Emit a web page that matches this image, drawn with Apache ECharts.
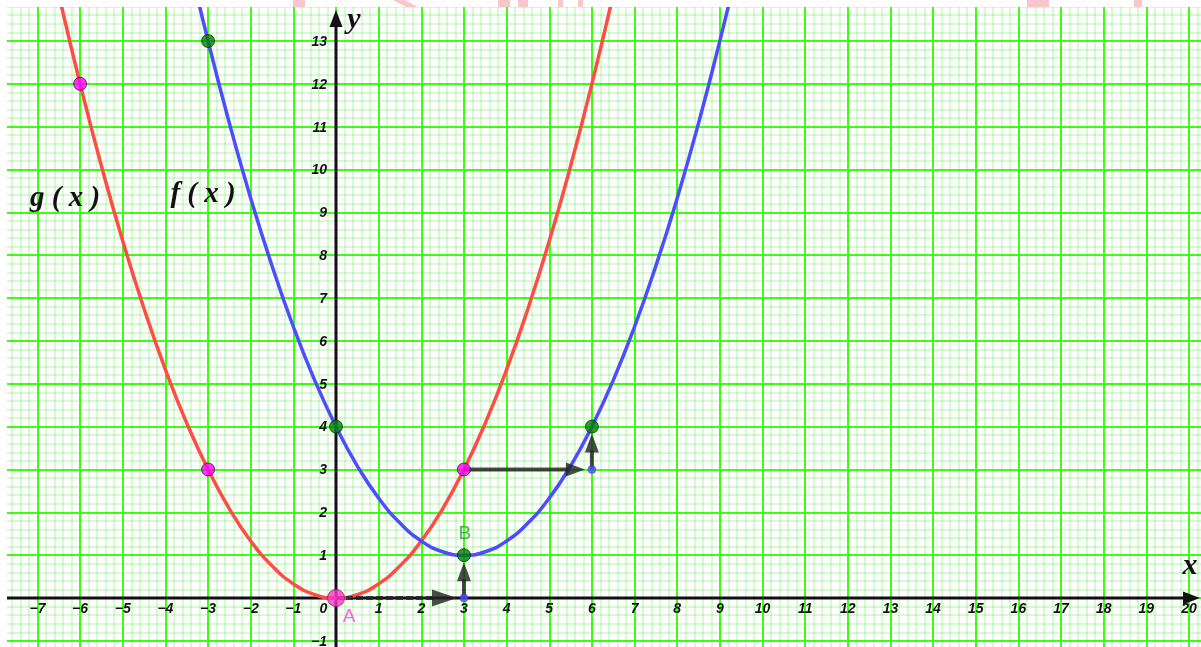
<!DOCTYPE html>
<html><head><meta charset="utf-8">
<script src="https://cdn.jsdelivr.net/npm/echarts@6/dist/echarts.min.js"></script>
<style>html,body{margin:0;padding:0;background:#fff}#c{width:1201px;height:647px}</style>
</head><body><div id="c"></div>
<script>
// ---- data ----
const gX = [-7,-6.5,-6,-5.5,-5,-4.5,-4,-3.5,-3,-2.5,-2,-1.5,-1,-0.5,0,0.5,1,1.5,2,2.5,3,3.5,4,4.5,5,5.5,6,6.5,7];
const gY = [16.33,14.08,12,10.08,8.33,6.75,5.33,4.08,3,2.08,1.33,0.75,0.33,0.08,0,0.08,0.33,0.75,1.33,2.08,3,4.08,5.33,6.75,8.33,10.08,12,14.08,16.33];
const fX = [-4,-3.5,-3,-2.5,-2,-1.5,-1,-0.5,0,0.5,1,1.5,2,2.5,3,3.5,4,4.5,5,5.5,6,6.5,7,7.5,8,8.5,9,9.5,10];
const fY = [17.33,15.08,13,11.08,9.33,7.75,6.33,5.08,4,3.08,2.33,1.75,1.33,1.08,1,1.08,1.33,1.75,2.33,3.08,4,5.08,6.33,7.75,9.33,11.08,13,15.08,17.33];
const gMarked = [[-6,12],[-3,3],[3,3]];
const pointA = [[0,0]];
const fMarked = [[-3,13],[0,4],[6,4]];
const pointB = [[3,1]];
const helperPts = [[3,0],[6,3]];
// vectors: x1, y1, x2, y2, dashed
const vectors = [[0,0,3,0,1],[3,0,3,1,0],[3,3,6,3,0],[6,3,6,4,0]];
// tick labels shown on the axes
const xTicks = [-7,-6,-5,-4,-3,-2,-1,0,1,2,3,4,5,6,7,8,9,10,11,12,13,14,15,16,17,18,19,20];
const yTicks = [-1,1,2,3,4,5,6,7,8,9,10,11,12,13];

const zip = (xs, ys) => xs.map((x, i) => [x, ys[i]]);
const minus = v => String(v).replace('-', '\u2212');

const chart = echarts.init(document.getElementById('c'), null, {renderer: 'canvas'});
const TICK_FONT = 'italic bold 14px "Liberation Sans"';
const INK = 'rgba(35,35,35,0.82)';
const PINK = '#f8c6cb';

const option = {
  animation: false,
  backgroundColor: '#fff',
  grid: {left: -5.2, right: -30.65, top: -1.9, bottom: -36.7, containLabel: false, outerBoundsMode: 'none'},
  xAxis: {
    type: 'value', min: -8, max: 21, interval: 1,
    axisLine: {show: false}, axisTick: {show: false}, axisLabel: {show: false},
    splitLine: {show: true, lineStyle: {color: '#3cff14', width: 2}},
    minorTick: {show: false, splitNumber: 5},
    minorSplitLine: {show: true, lineStyle: {color: 'rgba(60,230,40,0.25)', width: 1.6}}
  },
  yAxis: {
    type: 'value', min: -2, max: 14, interval: 1,
    axisLine: {show: false}, axisTick: {show: false}, axisLabel: {show: false},
    splitLine: {show: true, lineStyle: {color: '#3cff14', width: 2}},
    minorTick: {show: false, splitNumber: 5},
    minorSplitLine: {show: true, lineStyle: {color: 'rgba(60,230,40,0.25)', width: 1.6}}
  },
  series: [
    {
      type: 'custom', name: 'axes', coordinateSystem: 'cartesian2d', z: 3,
      data: [[0, 0]],
      renderItem: (params, api) => {
        const o = api.coord([0, 0]);
        const H = 647;
        const ax = 1200, ay = 10;
        const children = [
          {type: 'line', shape: {x1: 7, y1: o[1], x2: ax - 14, y2: o[1]}, style: {stroke: '#111', lineWidth: 3}},
          {type: 'polygon', shape: {points: [[ax, o[1]], [ax - 17, o[1] - 6.5], [ax - 17, o[1] + 6.5]]}, style: {fill: '#111'}},
          {type: 'line', shape: {x1: o[0], y1: H, x2: o[0], y2: ay + 14}, style: {stroke: '#111', lineWidth: 3}},
          {type: 'polygon', shape: {points: [[o[0], ay], [o[0] - 6.5, ay + 17], [o[0] + 6.5, ay + 17]]}, style: {fill: '#111'}}
        ];
        xTicks.forEach(v => {
          const p = api.coord([v, 0]);
          children.push({type: 'text', z2: 10, style: {
            text: minus(v), x: v === 0 ? p[0] - 12.5 : p[0], y: p[1] + 11.5,
            font: TICK_FONT, fill: '#111', align: 'center', verticalAlign: 'middle'}});
        });
        yTicks.forEach(v => {
          const p = api.coord([0, v]);
          children.push({type: 'text', z2: 10, style: {
            text: minus(v), x: p[0] - 9, y: p[1] + 1,
            font: TICK_FONT, fill: '#111', align: 'right', verticalAlign: 'middle'}});
        });
        return {type: 'group', children};
      }
    },
    {
      type: 'line', name: 'g', data: zip(gX, gY), smooth: true,
      showSymbol: false, lineStyle: {color: '#ff4d45', width: 3.5}, z: 4
    },
    {
      type: 'line', name: 'f', data: zip(fX, fY), smooth: true,
      showSymbol: false, lineStyle: {color: '#4d4dff', width: 3.5}, z: 4
    },
    {
      type: 'custom', name: 'vectors', coordinateSystem: 'cartesian2d', z: 5,
      encode: {x: [0, 2], y: [1, 3]},
      data: vectors,
      renderItem: (params, api) => {
        const p1 = api.coord([api.value(0), api.value(1)]);
        const p2 = api.coord([api.value(2), api.value(3)]);
        const dashed = api.value(4) === 1;
        const dx = p2[0] - p1[0], dy = p2[1] - p1[1];
        const len = Math.hypot(dx, dy);
        const ux = dx / len, uy = dy / len, nx = -uy, ny = ux;
        const tip = [p2[0] - ux * 7, p2[1] - uy * 7];
        const hl = dashed ? 25 : 19, hw = dashed ? 8.5 : 7;
        const base = [tip[0] - ux * hl, tip[1] - uy * hl];
        return {type: 'group', children: [
          {type: 'line', shape: {x1: p1[0], y1: p1[1], x2: base[0] + ux * 2, y2: base[1] + uy * 2},
           style: {stroke: INK, lineWidth: 4, lineDash: dashed ? [7, 3] : null}},
          {type: 'polygon', shape: {points: [tip, [base[0] + nx * hw, base[1] + ny * hw], [base[0] - nx * hw, base[1] - ny * hw]]},
           style: {fill: INK}}
        ]};
      }
    },
    {
      type: 'scatter', name: 'helper', data: helperPts, symbolSize: 8, z: 6,
      itemStyle: {color: '#4b4bff', borderColor: '#3030c0', borderWidth: 0.5}
    },
    {
      type: 'scatter', name: 'gPoints', data: gMarked, symbolSize: 13, z: 7,
      itemStyle: {color: '#ff00ff', borderColor: '#3a103a', borderWidth: 1}
    },
    {
      type: 'scatter', name: 'A', data: pointA, symbolSize: 17, z: 7,
      itemStyle: {color: '#ff33cc', borderColor: '#802060', borderWidth: 1},
      label: {show: true, formatter: 'A', position: 'bottom', distance: 0, offset: [13, 0],
              fontFamily: 'Liberation Sans', fontSize: 19, color: '#ff40d0'}
    },
    {
      type: 'scatter', name: 'fPoints', data: fMarked, symbolSize: 13, z: 7,
      itemStyle: {color: '#008000', borderColor: '#0a300a', borderWidth: 1}
    },
    {
      type: 'scatter', name: 'B', data: pointB, symbolSize: 13, z: 7,
      itemStyle: {color: '#008000', borderColor: '#0a300a', borderWidth: 1},
      label: {show: true, formatter: 'B', position: 'top', distance: 5, offset: [1, 0],
              fontFamily: 'Liberation Sans', fontSize: 19, color: '#22a022'}
    }
  ],
  graphic: [
    {type: 'rect', z: 100, shape: {x: 0, y: 0, width: 1201, height: 7}, style: {fill: '#fff'}},
    {type: 'rect', z: 100, shape: {x: 0, y: 0, width: 7, height: 647}, style: {fill: '#fff'}},
    {type: 'rect', z: 101, shape: {x: 293, y: 0, width: 12, height: 7}, style: {fill: PINK}},
    {type: 'polygon', z: 101, shape: {points: [[393, 0], [405, 0], [418, 7], [406, 7]]}, style: {fill: PINK}},
    {type: 'rect', z: 101, shape: {x: 498, y: 0, width: 12, height: 7}, style: {fill: PINK}},
    {type: 'rect', z: 101, shape: {x: 518, y: 0, width: 10, height: 7}, style: {fill: PINK}},
    {type: 'rect', z: 101, shape: {x: 558, y: 0, width: 5, height: 7}, style: {fill: PINK}},
    {type: 'rect', z: 101, shape: {x: 578, y: 0, width: 5, height: 7}, style: {fill: PINK}},
    {type: 'rect', z: 101, shape: {x: 1027, y: 0, width: 22, height: 7}, style: {fill: PINK}},
    {type: 'rect', z: 101, shape: {x: 1134, y: 0, width: 8, height: 7}, style: {fill: PINK}},
    {type: 'text', z: 101, x: 354, y: 20, style: {text: 'y', font: 'italic bold 30px "Liberation Serif"', fill: '#111', align: 'center', verticalAlign: 'middle'}},
    {type: 'text', z: 101, x: 1190, y: 566, style: {text: 'x', font: 'italic bold 30px "Liberation Serif"', fill: '#111', align: 'center', verticalAlign: 'middle'}},
    {type: 'text', z: 101, x: 65, y: 199, style: {text: 'g ( x )', font: 'italic bold 29px "Liberation Serif"', fill: '#111', align: 'center', verticalAlign: 'middle'}},
    {type: 'text', z: 101, x: 203, y: 195, style: {text: 'f ( x )', font: 'italic bold 29px "Liberation Serif"', fill: '#111', align: 'center', verticalAlign: 'middle'}}
  ]
};
chart.setOption(option);
</script></body></html>
